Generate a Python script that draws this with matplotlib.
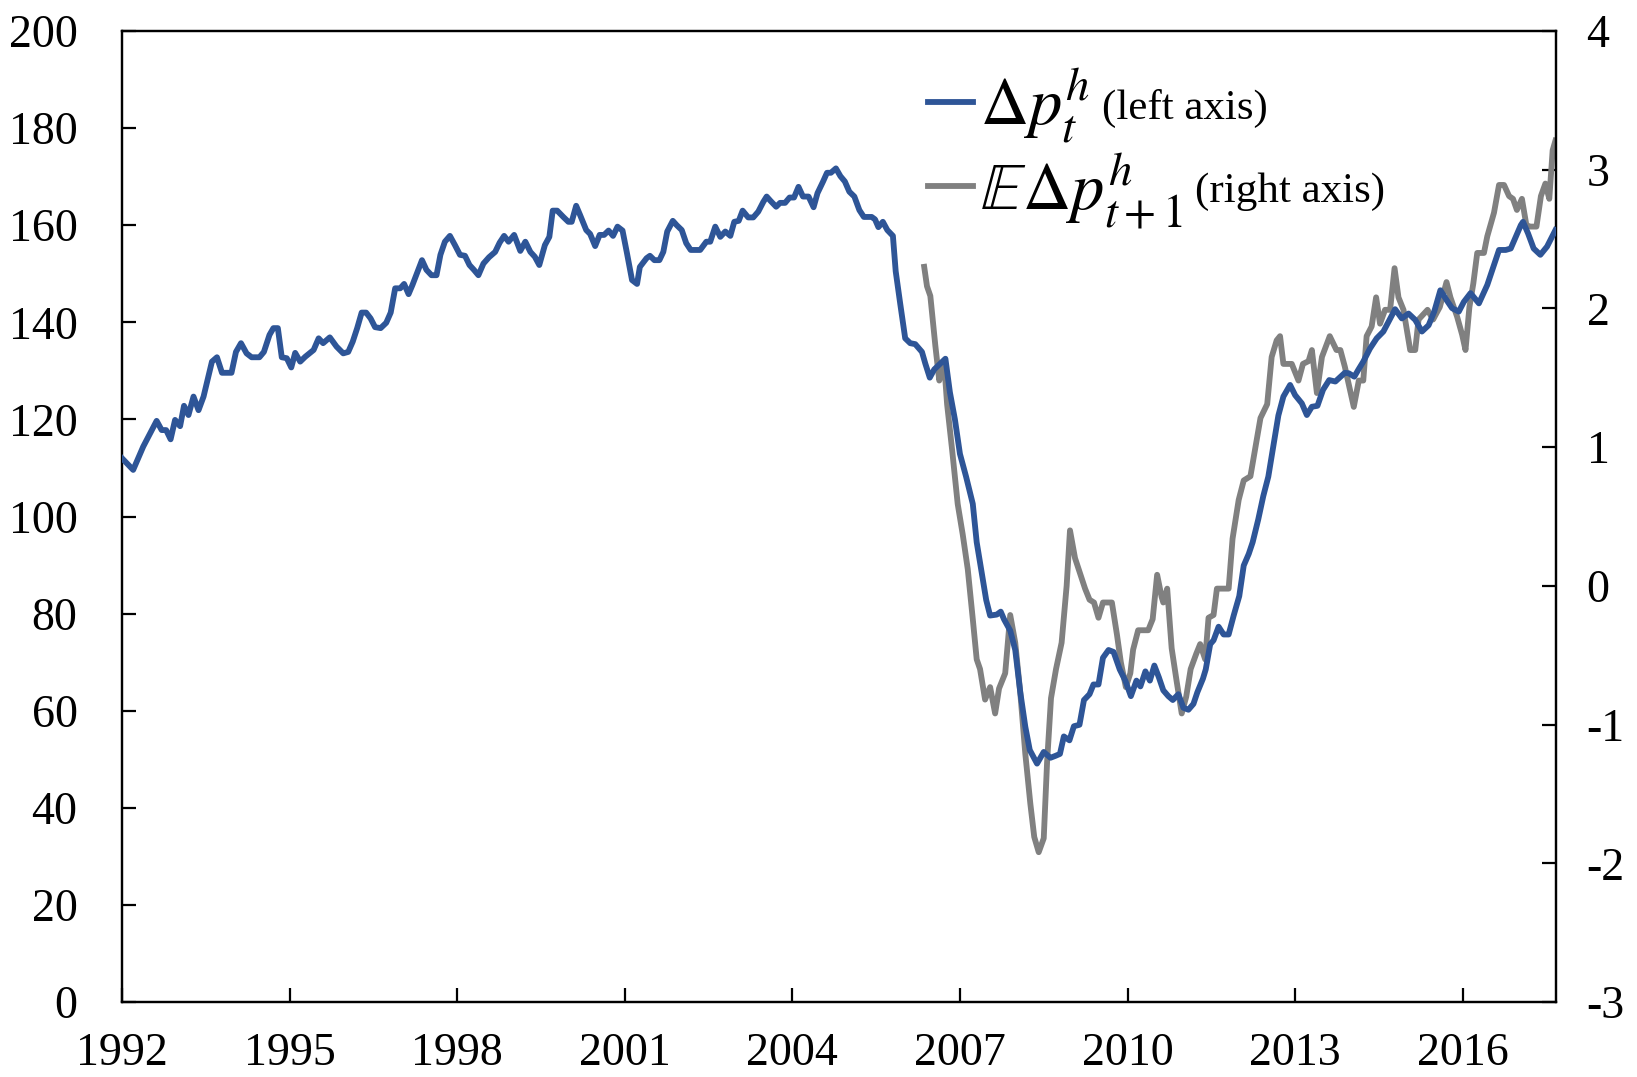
import matplotlib
matplotlib.use("Agg")
import matplotlib.pyplot as plt

plt.rcParams['font.family'] = ['Liberation Serif', 'DejaVu Serif']
plt.rcParams['mathtext.fontset'] = 'stix'

# ---------------- data (decimal years) ----------------
house_x = [
    1992.00, 1992.20, 1992.38, 1992.62, 1992.71, 1992.79, 1992.87, 1992.95, 1993.04, 1993.11,
    1993.19, 1993.28, 1993.37, 1993.46, 1993.53, 1993.61, 1993.70, 1993.79, 1993.96, 1994.04,
    1994.13, 1994.23, 1994.32, 1994.46, 1994.54, 1994.64, 1994.71, 1994.79, 1994.86, 1994.95,
    1995.03, 1995.10, 1995.19, 1995.28, 1995.43, 1995.52, 1995.60, 1995.72, 1995.84, 1995.96,
    1996.05, 1996.13, 1996.21, 1996.29, 1996.37, 1996.45, 1996.53, 1996.63, 1996.73, 1996.81,
    1996.89, 1996.98, 1997.05, 1997.13, 1997.20, 1997.29, 1997.37, 1997.45, 1997.54, 1997.63,
    1997.70, 1997.78, 1997.87, 1997.96, 1998.05, 1998.14, 1998.22, 1998.30, 1998.38, 1998.47,
    1998.57, 1998.68, 1998.76, 1998.84, 1998.92, 1999.02, 1999.13, 1999.22, 1999.31, 1999.39,
    1999.47, 1999.57, 1999.65, 1999.71, 1999.79, 1999.90, 1999.99, 2000.05, 2000.13, 2000.20,
    2000.31, 2000.38, 2000.47, 2000.55, 2000.63, 2000.71, 2000.79, 2000.87, 2000.96, 2001.04,
    2001.13, 2001.22, 2001.27, 2001.39, 2001.45, 2001.53, 2001.62, 2001.69, 2001.76, 2001.86,
    2001.93, 2002.02, 2002.10, 2002.18, 2002.35, 2002.46, 2002.53, 2002.62, 2002.71, 2002.80,
    2002.89, 2002.96, 2003.04, 2003.11, 2003.21, 2003.30, 2003.39, 2003.48, 2003.54, 2003.61,
    2003.71, 2003.78, 2003.87, 2003.95, 2004.03, 2004.11, 2004.19, 2004.29, 2004.38, 2004.45,
    2004.55, 2004.62, 2004.69, 2004.78, 2004.86, 2004.94, 2005.02, 2005.11, 2005.20, 2005.28,
    2005.42, 2005.48, 2005.54, 2005.62, 2005.70, 2005.80, 2005.85, 2005.93, 2006.02, 2006.11,
    2006.20, 2006.32, 2006.38, 2006.46, 2006.54, 2006.65, 2006.74, 2006.82, 2006.91, 2007.00,
    2007.11, 2007.23, 2007.30, 2007.39, 2007.47, 2007.54, 2007.66, 2007.73, 2007.79, 2007.90,
    2007.99, 2008.08, 2008.17, 2008.25, 2008.38, 2008.50, 2008.62, 2008.71, 2008.79, 2008.86,
    2008.96, 2009.04, 2009.14, 2009.22, 2009.32, 2009.39, 2009.48, 2009.56, 2009.66, 2009.75,
    2009.86, 2009.96, 2010.06, 2010.16, 2010.23, 2010.32, 2010.40, 2010.48, 2010.56, 2010.64,
    2010.73, 2010.81, 2010.91, 2011.00, 2011.09, 2011.18, 2011.25, 2011.35, 2011.40, 2011.48,
    2011.54, 2011.63, 2011.72, 2011.81, 2011.90, 2012.00, 2012.08, 2012.17, 2012.24, 2012.34,
    2012.43, 2012.52, 2012.61, 2012.70, 2012.79, 2012.91, 2013.00, 2013.12, 2013.21, 2013.30,
    2013.40, 2013.50, 2013.61, 2013.72, 2013.89, 2013.96, 2014.06, 2014.13, 2014.22, 2014.34,
    2014.46, 2014.58, 2014.69, 2014.79, 2014.91, 2015.03, 2015.15, 2015.27, 2015.39, 2015.49,
    2015.60, 2015.71, 2015.81, 2015.93, 2016.02, 2016.14, 2016.29, 2016.44, 2016.56, 2016.65,
    2016.77, 2016.86, 2016.95, 2017.04, 2017.08, 2017.17, 2017.27, 2017.39, 2017.51, 2017.66,
]
house_val = [
    112.0, 109.6, 114.4, 119.7, 117.8, 117.8, 115.9, 119.9, 118.6, 122.8,
    120.9, 124.7, 121.9, 124.7, 128.1, 131.9, 132.8, 129.6, 129.6, 133.9,
    135.7, 133.6, 132.8, 132.8, 133.9, 137.4, 138.8, 138.8, 132.8, 132.6,
    130.7, 133.7, 131.9, 132.9, 134.3, 136.7, 135.7, 136.9, 135.0, 133.6,
    133.9, 136.0, 138.8, 142.0, 142.0, 140.8, 139.0, 138.8, 139.9, 142.0,
    147.0, 147.0, 147.9, 145.8, 147.7, 150.4, 152.8, 150.8, 149.7, 149.7,
    153.9, 156.6, 157.8, 155.9, 153.9, 153.7, 151.8, 150.8, 149.7, 152.1,
    153.4, 154.5, 156.4, 157.8, 156.6, 158.0, 154.7, 156.6, 154.5, 153.5,
    151.8, 155.9, 157.6, 163.0, 163.0, 161.7, 160.7, 160.7, 164.0, 162.1,
    159.0, 158.2, 155.7, 158.0, 158.0, 158.9, 157.8, 159.7, 158.9, 154.2,
    148.7, 147.9, 151.4, 153.2, 153.7, 152.8, 152.8, 154.5, 158.7, 160.9,
    160.0, 159.0, 156.3, 154.9, 154.9, 156.6, 156.6, 159.7, 157.6, 158.7,
    157.8, 160.7, 160.9, 163.0, 161.6, 161.6, 162.8, 164.8, 165.9, 165.0,
    163.8, 164.6, 164.6, 165.7, 165.7, 167.9, 165.9, 165.9, 163.7, 166.6,
    169.0, 170.8, 170.8, 171.7, 170.1, 169.0, 166.9, 165.9, 163.1, 161.7,
    161.7, 161.2, 159.6, 160.7, 159.0, 157.8, 150.5, 143.9, 136.7, 135.7,
    135.5, 133.9, 131.5, 128.6, 130.3, 131.5, 132.5, 125.6, 120.0, 112.9,
    108.2, 102.6, 94.7, 88.4, 82.8, 79.6, 79.8, 80.4, 78.8, 76.5,
    72.5, 63.8, 56.7, 51.9, 49.1, 51.5, 50.3, 50.7, 51.1, 54.7,
    53.9, 56.8, 57.1, 62.2, 63.4, 65.4, 65.4, 70.9, 72.5, 72.1,
    68.5, 66.2, 63.0, 66.2, 65.0, 68.1, 66.2, 69.3, 66.9, 64.2,
    63.0, 62.2, 63.4, 60.6, 60.2, 61.4, 63.8, 66.6, 68.5, 73.7,
    74.5, 77.3, 75.7, 75.7, 79.6, 83.6, 89.9, 92.3, 94.7, 99.4,
    104.2, 108.2, 114.5, 120.8, 124.7, 127.1, 125.0, 123.3, 120.9, 122.6,
    122.8, 126.1, 128.1, 127.8, 129.6, 129.5, 128.8, 130.2, 131.9, 134.6,
    136.7, 138.1, 140.5, 142.7, 140.8, 141.8, 140.5, 138.1, 139.4, 142.2,
    146.6, 144.6, 142.9, 142.2, 144.2, 146.0, 143.9, 147.7, 151.8, 154.9,
    154.9, 155.2, 157.6, 160.0, 160.7, 158.3, 155.2, 153.9, 155.6, 159.0,
]

expect_x = [
    2006.36, 2006.41, 2006.47, 2006.56, 2006.63, 2006.68, 2006.72, 2006.77, 2006.86, 2006.96,
    2007.05, 2007.14, 2007.23, 2007.30, 2007.36, 2007.45, 2007.54, 2007.63, 2007.70, 2007.81,
    2007.90, 2007.99, 2008.08, 2008.17, 2008.26, 2008.33, 2008.41, 2008.50, 2008.56, 2008.63,
    2008.72, 2008.82, 2008.91, 2008.97, 2009.06, 2009.15, 2009.24, 2009.32, 2009.40, 2009.48,
    2009.56, 2009.63, 2009.72, 2009.81, 2009.88, 2009.97, 2010.05, 2010.10, 2010.19, 2010.28,
    2010.37, 2010.45, 2010.53, 2010.61, 2010.64, 2010.71, 2010.79, 2010.88, 2010.97, 2011.05,
    2011.13, 2011.23, 2011.30, 2011.39, 2011.45, 2011.54, 2011.60, 2011.69, 2011.81, 2011.88,
    2011.99, 2012.08, 2012.20, 2012.29, 2012.38, 2012.50, 2012.58, 2012.67, 2012.73, 2012.79,
    2012.94, 2013.06, 2013.14, 2013.24, 2013.30, 2013.39, 2013.48, 2013.62, 2013.74, 2013.81,
    2013.89, 2014.05, 2014.14, 2014.22, 2014.28, 2014.37, 2014.45, 2014.52, 2014.61, 2014.70,
    2014.78, 2014.85, 2014.94, 2015.06, 2015.15, 2015.21, 2015.37, 2015.47, 2015.59, 2015.71,
    2015.78, 2015.90, 2015.99, 2016.05, 2016.12, 2016.19, 2016.26, 2016.38, 2016.44, 2016.56,
    2016.65, 2016.74, 2016.83, 2016.90, 2016.97, 2017.06, 2017.14, 2017.21, 2017.32, 2017.40,
    2017.48, 2017.55, 2017.61, 2017.66,
]
expect_val = [
    2.30, 2.16, 2.09, 1.73, 1.48, 1.58, 1.59, 1.31, 0.98, 0.59,
    0.37, 0.12, -0.24, -0.53, -0.60, -0.82, -0.73, -0.92, -0.74, -0.63,
    -0.21, -0.41, -0.77, -1.21, -1.57, -1.81, -1.92, -1.82, -1.27, -0.81,
    -0.60, -0.41, 0.00, 0.40, 0.20, 0.09, -0.02, -0.10, -0.12, -0.23,
    -0.12, -0.12, -0.12, -0.35, -0.55, -0.73, -0.63, -0.46, -0.32, -0.32,
    -0.32, -0.24, 0.08, -0.08, -0.12, -0.02, -0.45, -0.69, -0.92, -0.80,
    -0.60, -0.49, -0.42, -0.53, -0.23, -0.21, -0.02, -0.02, -0.02, 0.34,
    0.62, 0.76, 0.79, 1.00, 1.21, 1.31, 1.65, 1.77, 1.80, 1.60,
    1.60, 1.48, 1.60, 1.62, 1.70, 1.39, 1.65, 1.80, 1.70, 1.70,
    1.58, 1.29, 1.48, 1.48, 1.80, 1.87, 2.08, 1.89, 1.99, 1.99,
    2.29, 2.08, 1.99, 1.70, 1.70, 1.92, 1.99, 1.92, 2.01, 2.19,
    2.08, 1.94, 1.81, 1.70, 2.01, 2.18, 2.40, 2.40, 2.52, 2.69,
    2.89, 2.89, 2.81, 2.79, 2.71, 2.79, 2.60, 2.59, 2.59, 2.81,
    2.90, 2.79, 3.14, 3.21,
]

x_ticks = [1992, 1995, 1998, 2001, 2004, 2007, 2010, 2013, 2016]
x_ticklabels = ['1992', '1995', '1998', '2001', '2004', '2007', '2010', '2013', '2016']
left_ticks = [0, 20, 40, 60, 80, 100, 120, 140, 160, 180, 200]
right_ticks = [-3, -2, -1, 0, 1, 2, 3, 4]
right_ticklabels = ['-3', '-2', '-1', '0', '1', '2', '3', '4']

labels_math = [r'$\Delta p_t^h$', r'$\mathbb{E}\Delta p_{t+1}^h$']
labels_suffix = ['(left axis)', '(right axis)']

BLUE = '#2E5597'
GRAY = '#808080'

# ---------------- figure ----------------
W, H = 1637, 1077
fig = plt.figure(figsize=(W / 100, H / 100), dpi=100)
ax = fig.add_axes([122 / W, 1 - 1002 / H, (1556 - 122) / W, (1002 - 31) / H])
ax2 = ax.twinx()

l1, = ax.plot(house_x, house_val, color=BLUE, lw=4.2, solid_joinstyle='round', zorder=3)
l2, = ax2.plot(expect_x, expect_val, color=GRAY, lw=4.2, solid_joinstyle='round', zorder=2)
ax.set_zorder(ax2.get_zorder() + 1)
ax.patch.set_visible(False)

ax.set_xlim(1992, 2017.67)
ax.set_ylim(0, 200)
ax2.set_ylim(-3, 4)

ax.set_xticks(x_ticks)
ax.set_xticklabels(x_ticklabels)
ax.set_yticks(left_ticks)
ax2.set_yticks(right_ticks)
ax2.set_yticklabels(right_ticklabels)

for a in (ax, ax2):
    for s in a.spines.values():
        s.set_linewidth(1.6)
        s.set_color('black')

ax.tick_params(axis='y', direction='in', length=10, width=1.6, pad=32, labelsize=33)
ax.tick_params(axis='x', direction='in', length=10, width=1.6, pad=22, labelsize=33)
ax2.tick_params(axis='y', direction='in', length=10, width=1.6, pad=22, labelsize=33)

# ---------------- legend ----------------
LEG_FS = 48
fs_px = LEG_FS * 100 / 72
target_x, target_y1, target_y2 = 928, 1077 - 102, 1077 - 186   # pixel targets (from bottom)


def make_legend(ax_x, ax_y, spacing):
    return ax.legend([l1, l2], labels_math, loc='upper left',
                     bbox_to_anchor=(ax_x / W, ax_y / H), bbox_transform=fig.transFigure,
                     frameon=False, fontsize=LEG_FS, handlelength=0.68, handletextpad=0.1,
                     labelspacing=spacing, borderaxespad=0, borderpad=0)


ax_x, ax_y, spacing = target_x, 1077 - 45, 0.25
for _ in range(3):
    leg = make_legend(ax_x, ax_y, spacing)
    fig.canvas.draw()
    r = fig.canvas.get_renderer()
    lbs = [ln.get_window_extent(r) for ln in leg.get_lines()]
    yc = [(b.y0 + b.y1) / 2 for b in lbs]
    x0 = lbs[0].x0
    spacing += ((target_y1 - target_y2) - (yc[0] - yc[1])) / fs_px
    ax_y += target_y1 - yc[0]
    ax_x += target_x - x0
    leg.remove()

leg = make_legend(ax_x, ax_y, spacing)
fig.canvas.draw()
renderer = fig.canvas.get_renderer()
inv = fig.transFigure.inverted()
for t, ln, suf in zip(leg.get_texts(), leg.get_lines(), labels_suffix):
    bb = t.get_window_extent(renderer)
    lb = ln.get_window_extent(renderer)
    yc = (lb.y0 + lb.y1) / 2
    x0, y0 = inv.transform((bb.x1 + 12, yc - 6))
    fig.text(x0, y0, suf, fontsize=31, va='center', ha='left')

fig.savefig('out.png', dpi=100)
